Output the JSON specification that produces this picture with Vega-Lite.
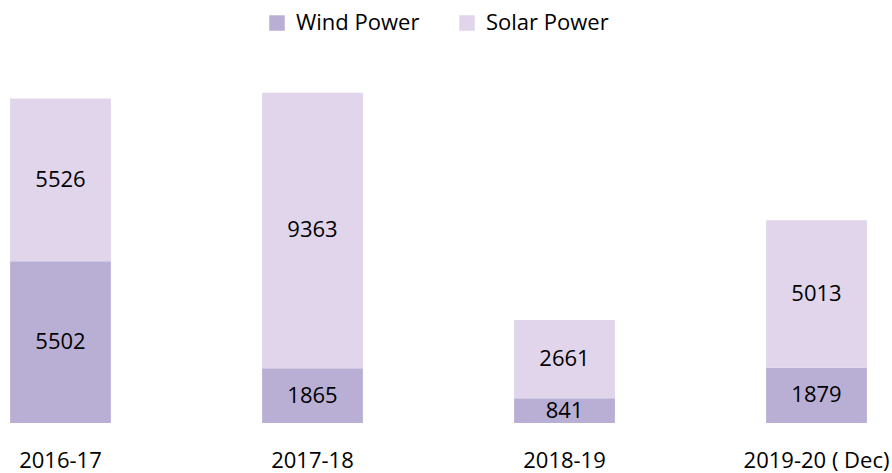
{
  "$schema": "https://vega.github.io/schema/vega-lite/v6.json",
  "width": 877,
  "height": 353,
  "autosize": {"type": "none"},
  "padding": {"left": 0, "top": 70, "right": 15, "bottom": 50},
  "background": "white",
  "config": {
    "view": {"stroke": null},
    "font": "Open Sans"
  },
  "data": {
    "values": [
      {"year": "2016-17", "type": "Wind Power", "ord": 0, "value": 5502},
      {"year": "2016-17", "type": "Solar Power", "ord": 1, "value": 5526},
      {"year": "2017-18", "type": "Wind Power", "ord": 0, "value": 1865},
      {"year": "2017-18", "type": "Solar Power", "ord": 1, "value": 9363},
      {"year": "2018-19", "type": "Wind Power", "ord": 0, "value": 841},
      {"year": "2018-19", "type": "Solar Power", "ord": 1, "value": 2661},
      {"year": "2019-20 ( Dec)", "type": "Wind Power", "ord": 0, "value": 1879},
      {"year": "2019-20 ( Dec)", "type": "Solar Power", "ord": 1, "value": 5013}
    ]
  },
  "transform": [
    {"stack": "value", "groupby": ["year"], "sort": [{"field": "ord", "order": "ascending"}], "as": ["v0", "v1"]},
    {"calculate": "(datum.v0 + datum.v1) / 2", "as": "mid"}
  ],
  "encoding": {
    "x": {
      "field": "year",
      "type": "nominal",
      "sort": null,
      "scale": {"paddingInner": 0.6, "paddingOuter": 0.04},
      "axis": {
        "title": null,
        "labelAngle": 0,
        "domain": false,
        "ticks": false,
        "labelPadding": 27,
        "labelFontSize": 22,
        "labelColor": "#000000",
        "labelFont": "Open Sans"
      }
    }
  },
  "layer": [
    {
      "mark": {"type": "bar"},
      "encoding": {
        "y": {"field": "v0", "type": "quantitative", "scale": {"domain": [0, 12000]}, "axis": null},
        "y2": {"field": "v1"},
        "color": {
          "field": "type",
          "type": "nominal",
          "scale": {"domain": ["Wind Power", "Solar Power"], "range": ["#b9afd5", "#e0d5eb"]},
          "legend": {
            "title": null,
            "orient": "none",
            "direction": "horizontal",
            "legendX": 266,
            "legendY": -58,
            "symbolType": "square",
            "symbolSize": 240,
            "symbolStrokeWidth": 0,
            "labelFontSize": 22,
            "labelFont": "Open Sans",
            "labelColor": "#000000",
            "columnPadding": 36,
            "labelOffset": 8
          }
        }
      }
    },
    {
      "mark": {"type": "text", "fontSize": 22, "color": "#000000", "font": "Open Sans", "baseline": "middle"},
      "encoding": {
        "y": {"field": "mid", "type": "quantitative", "scale": {"domain": [0, 12000]}},
        "text": {"field": "value", "type": "quantitative", "format": "d"}
      }
    }
  ]
}
